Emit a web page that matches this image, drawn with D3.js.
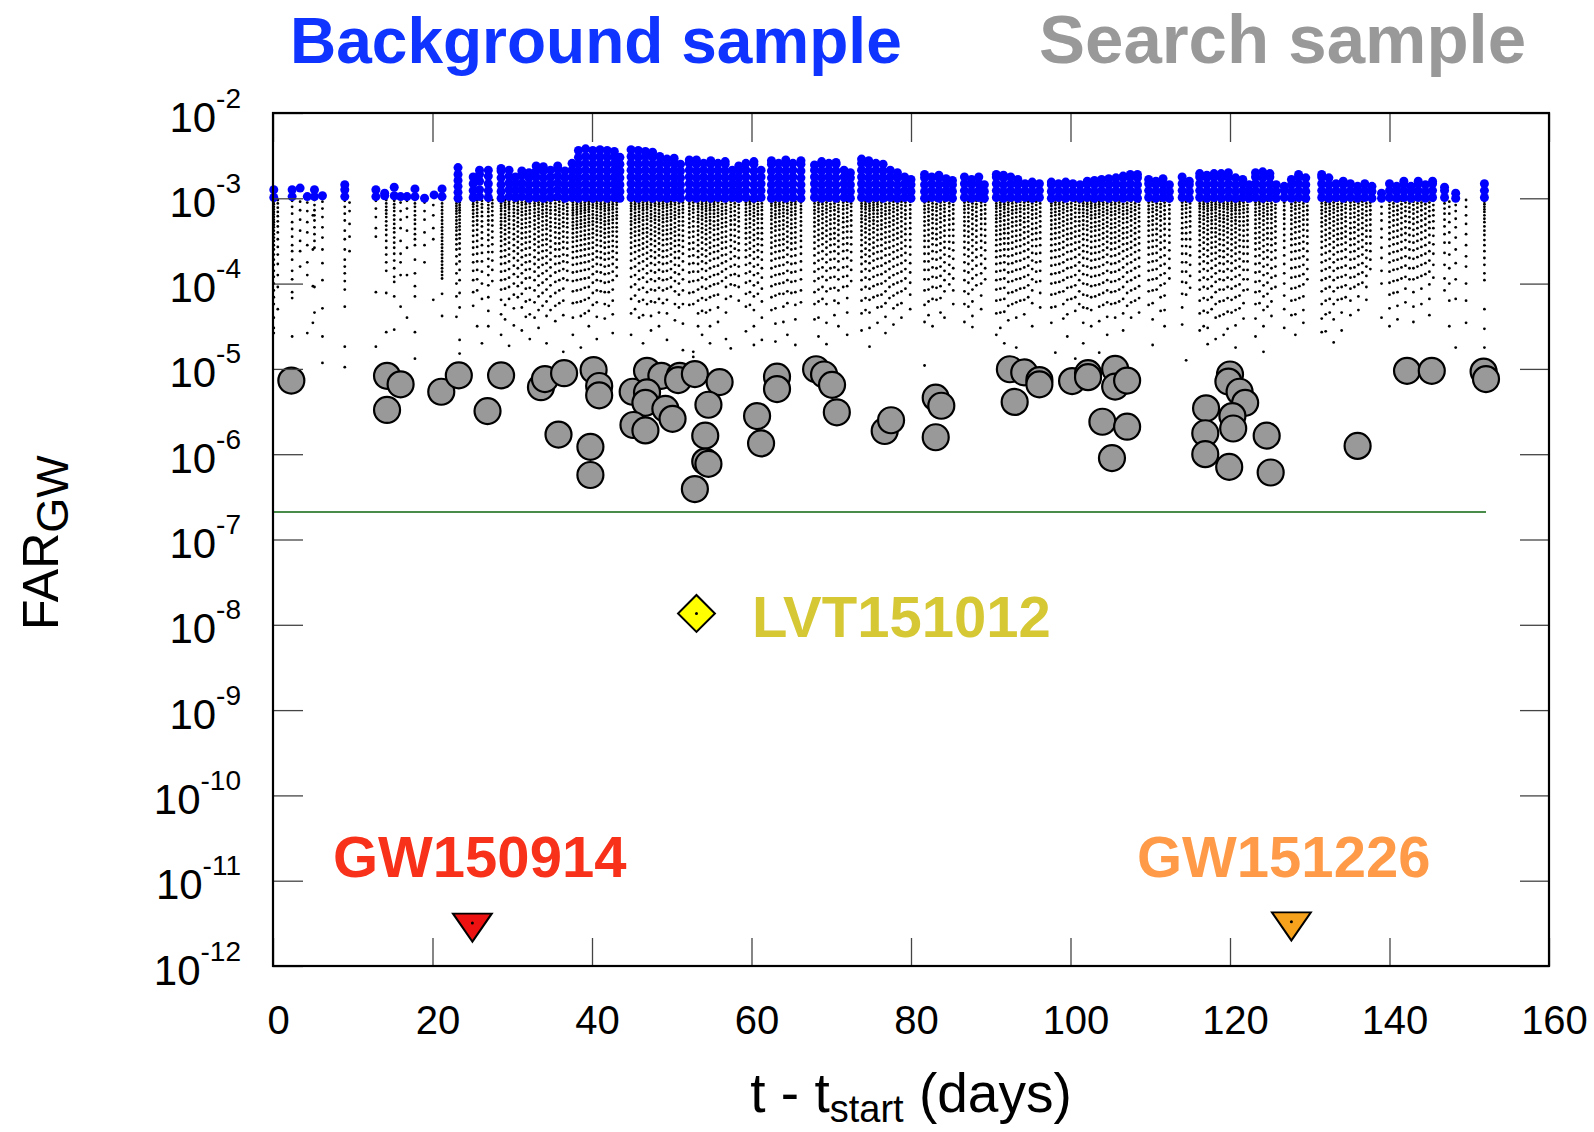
<!DOCTYPE html>
<html><head><meta charset="utf-8">
<script src="https://cdn.jsdelivr.net/npm/d3@7"></script>
<style>html,body{margin:0;padding:0;background:#fff;}svg{display:block;}</style>
</head><body><svg id="c" width="1594" height="1132"></svg>
<script>
// ---------------- DATA ----------------
const xTicks = [0, 20, 40, 60, 80, 100, 120, 140, 160];
const yTickExps = [-2, -3, -4, -5, -6, -7, -8, -9, -10, -11, -12];
const titleLeft = "Background sample";
const titleRight = "Search sample";

// Search sample (gray circles): time (days) and FAR_GW
const searchT = [2.3,14.3,16.0,14.3,21.1,23.3,26.9,28.6,33.6,34.1,36.5,35.8,40.2,40.9,40.9,39.8,39.8,
  45.1,46.9,48.7,46.9,46.7,49.2,50.1,45.2,46.7,51.0,50.8,52.9,56.0,54.6,54.2,54.2,54.6,52.9,
  63.2,63.2,60.7,61.2,68.1,69.1,70.1,70.7,76.7,77.5,83.1,83.8,83.1,
  92.4,94.2,96.1,96.1,93.0,100.2,102.2,102.2,105.6,105.6,107.1,104.0,107.1,105.2,
  120.0,119.8,121.2,121.9,117.0,120.3,120.4,116.9,116.9,119.9,124.6,125.1,136.0,142.2,145.3,151.8,152.1];
const searchFar = [7.3e-6,8.3e-6,6.6e-6,3.3e-6,5.4e-6,8.4e-6,3.2e-6,8.4e-6,6.1e-6,7.6e-6,8.9e-6,1.7e-6,9.7e-6,6.3e-6,4.9e-6,1.22e-6,5.7e-7,
  5.4e-6,9.5e-6,8.3e-6,5.3e-6,4.0e-6,3.4e-6,2.6e-6,2.2e-6,1.9e-6,8.3e-6,7.4e-6,8.7e-6,7.0e-6,3.8e-6,1.65e-6,8.2e-7,7.7e-7,3.9e-7,
  8.1e-6,5.8e-6,2.8e-6,1.34e-6,9.9e-6,8.6e-6,6.5e-6,3.1e-6,1.87e-6,2.5e-6,4.6e-6,3.7e-6,1.58e-6,
  9.9e-6,9.1e-6,7.4e-6,6.6e-6,4.1e-6,7.2e-6,8.9e-6,8.0e-6,1.0e-5,6.2e-6,7.3e-6,2.4e-6,2.1e-6,9.0e-7,
  8.6e-6,7.1e-6,5.4e-6,4.0e-6,3.45e-6,2.8e-6,2.0e-6,1.76e-6,1.0e-6,7.1e-7,1.65e-6,6.1e-7,1.25e-6,9.5e-6,9.5e-6,9.3e-6,7.6e-6];

// Events
const eventNames = ["GW150914", "LVT151012", "GW151226"];
const eventT = [25.0, 53.1, 127.7];
const eventFar = [3.2e-12, 1.36e-8, 3.3e-12];

// Threshold line
const thresholdFar = 2.1e-7;
const thresholdT = [0, 152.1];

// Background sample above 1e-3 (blue): [t, "offsets in 1/100 decade ABOVE 1e-3"]
const blueCols = [
[0.1,"1 10"],[2.4,"2 10"],[3.4,"12"],[4.3,"2"],[5.2,"2 10"],[6.2,"3"],[9.0,"2 10 16"],
[12.9,"2 10"],[14.0,"3 6"],[15.2,"3 13"],[16.0,"2"],[16.8,"2"],[17.8,"2 11"],[19.0,"0"],[20.2,"4"],[21.2,"2 11"],
[23.2,"0 7 14 21 28 36"],[25.1,"1 9 17 25"],[25.9,"2 10 20 28 33"],[27.0,"1 9 17 26 33"],
[28.6,"0 8 16 24 32 35"],[29.6,"2 10 18 26 33"],[30.4,"1 9 17 25"],[31.2,"2 10 18 27 32"],[32.1,"0 8 16 24 30"],
[33.0,"1 9 17 25 32 38"],[33.9,"0 8 16 24 32 37"],[34.8,"1 9 17 25 33"],[35.7,"2 10 18 26 34 38"],[36.6,"0 8 16 24 32"],
[37.5,"1 9 17 25 33 41"],[38.3,"0 8 16 24 32 40 48 56"],[39.2,"1 9 17 25 33 41 49 58"],[40.1,"0 8 16 24 32 40 48 56"],
[41.0,"1 9 17 25 33 41 49 57"],[41.9,"0 8 16 24 32 40 48 56"],[42.8,"1 9 17 25 33 41 49 55"],[43.5,"0 8 16 24 32 40 48"],
[44.9,"1 9 17 25 33 41 49 57"],[45.8,"0 8 16 24 32 40 48 56"],[46.7,"1 9 17 25 33 41 49 55"],[47.6,"0 8 16 24 32 40 48 54"],
[48.5,"1 9 17 25 33 41 49"],[49.4,"0 8 16 24 32 40 46"],[50.3,"1 9 17 25 33 41 47"],[51.1,"0 8 16 24 32 40"],
[52.2,"1 9 17 25 33 41 45"],[53.1,"0 8 16 24 32 40 45"],[54.0,"1 9 17 25 33 41"],[54.9,"0 8 16 24 32 40 44"],
[55.8,"1 9 17 25 33 41"],[56.7,"0 8 16 24 32 40 43"],[57.6,"1 9 17 25 33"],[58.4,"0 8 16 24 32 38"],
[59.3,"1 9 17 25 33 41"],[60.3,"0 8 16 24 32 40 43"],[61.2,"1 9 17 25 33"],
[62.5,"0 8 16 24 32 40 44"],[63.4,"1 9 17 25 33 41"],[64.3,"0 8 16 24 32 40 45"],[65.2,"1 9 17 25 33 41"],[66.2,"0 8 16 24 32 40 44"],
[67.9,"1 9 17 25 33 39"],[68.8,"0 8 16 24 32 40 43"],[69.7,"1 9 17 25 33 41"],[70.6,"0 8 16 24 32 40 42"],[71.6,"1 9 17 25 33"],[72.4,"0 8 16 24 30"],
[73.8,"1 9 17 25 33 41 46"],[74.7,"0 8 16 24 32 40 44"],[75.6,"1 9 17 25 33 41"],[76.5,"0 8 16 24 32 40"],[77.4,"1 9 17 25 33"],
[78.3,"0 8 16 24 30"],[79.2,"1 9 17 25"],[80.0,"0 8 16 22"],
[81.7,"0 8 16 24 28"],[82.6,"1 9 17 25"],[83.5,"0 8 16 24 27"],[84.4,"1 9 17 23"],[85.2,"0 8 16 21"],
[86.7,"1 9 17 25"],[87.6,"0 8 16 22"],[88.5,"1 9 17 25"],[89.2,"0 8 16"],
[90.7,"1 9 17 25 28"],[91.6,"0 8 16 24 27"],[92.5,"1 9 17 25"],[93.4,"0 8 16 22"],[94.3,"1 9 17"],[95.2,"0 8 16 19"],[96.1,"1 9 17"],
[97.6,"0 8 16 19"],[98.5,"1 9 17"],[99.4,"0 8 16 19"],[100.3,"1 9 17"],[101.2,"0 8 16"],
[102.1,"1 9 17 20"],[103.0,"0 8 16 21"],[103.9,"1 9 17 22"],[104.8,"0 8 16 23"],[105.7,"1 9 17 24"],[106.6,"0 8 16 24 26"],
[107.5,"1 9 17 25 28"],[108.4,"0 8 16 24 28"],
[109.8,"1 9 17 22"],[110.7,"0 8 16 20"],[111.6,"1 9 17 23"],[112.4,"0 8 16"],
[114.0,"1 9 17 25"],[114.9,"0 8 16 20"],
[116.2,"1 9 17 25 29"],[117.1,"0 8 16 24 27"],[118.0,"1 9 17 25 29"],[118.9,"0 8 16 24 29"],[119.8,"1 9 17 25 30"],
[120.7,"0 8 16 24"],[121.6,"1 9 17 22"],[122.4,"0 8 16"],
[123.2,"1 9 17 25 30"],[124.1,"0 8 16 24 31"],[125.0,"1 9 17 25 29"],[125.8,"0 8 16"],
[126.8,"1 9 14"],[127.7,"0 8 16 22"],[128.6,"1 9 17 25 28"],[129.5,"0 8 16 24"],
[131.5,"1 9 17 25 28"],[132.4,"0 8 16 24"],[133.3,"1 9 17"],[134.2,"0 8 16 20"],[135.1,"1 9 17"],[136.0,"0 8 14"],
[136.9,"1 9 17"],[137.8,"0 8 14"],[139.0,"0 6"],
[140.0,"1 9 17"],[140.9,"0 8 14"],[141.8,"1 9 17 20"],[142.7,"0 8 14"],[143.6,"1 9 17 20"],[144.5,"0 8 16"],[145.4,"1 9 17 20"],
[146.9,"1 9 13"],[148.3,"0 6"],[151.9,"1 9 17"]
];

// Background sample below 1e-3 (black): [t, "offsets in 1/100 decade BELOW 1e-3"]
const bgCols = [
[0.1,"1 4 7 10 13 16 19 22 25 28 31 34 38 42 46 50 55 60 66 72 78 85 92 100 108 116 124 140 152 158"],
[0.6,"2 6 11 16 21 27 33 40 48 57 66 77 90 104 130"],
[2.4,"3 10 18 28 36 45 55 62 72 85 95 110 117 162"],
[3.4,"4 14 25 38 50 62 80"],
[4.3,"5 15 28 40 55 75 90 158"],
[5.0,"20 60 103 146"],
[5.2,"2 8 14 20 26 34 42 50 58 104 134"],
[6.2,"4 12 22 34 46 60 76 96 129 162 193"],
[9.0,"3 10 18 26 38 48 60 72 80 88 97 107 127 174 198"],
[9.6,"5 15 30 45 62"],
[12.9,"3 12 22 35 45 110 174"],
[14.2,"2 6 10 14 18 22 27 32 37 43 50 58 66 75 85 111 157"],
[15.2,"3 7 11 15 20 25 30 35 40 46 52 58 65 73 82 92 98 115 154"],
[16.0,"5 15 25 35 50 65 75 90 127"],
[16.8,"3 12 22 38 58 90 140"],
[17.8,"2 6 10 15 20 25 30 36 42 48 55 72 88 103 115 157 188"],
[19.0,"5 15 25 40 55 75"],
[20.1,"8 20 35 48 119"],
[21.2,"2 6 10 14 18 22 26 30 34 38 42 46 50 54 58 62 66 70 74 78 82 86 90 94 112 138"],
[23.0,"1 3 6 9 12 15 18 22 26 30 34 38 43 48 54 60 68 77 88 100 115 139"],
[23.4,"2 5 8 11 14 17 21 25 29 33 37 42 47 53 59 66 74 84 96 111 128 166 182"],
[25.1,"1 4 7 10 14 18 22 27 32 38 44 51 58 66 75 85 96 110 126"],
[25.6,"2 5 9 13 17 21 26 31 37 43 50 57 65 74 84 95 108 150"],
[26.2,"3 7 11 16 21 27 33 40 47 55 64 74 86 100 118 170"],
[27.0,"1 4 8 12 16 21 26 31 37 43 49 56 63 71 80 90 102 116 132 150"],
[27.5,"2 6 10 15 20 26 32 39 46 54 63 73 84 97"],
[28.6,"1 3 6 9 12 15 19 23 27 31 35 40 45 50 56 62 69 77 86 96 107 119 136 160"],
[29.1,"2 5 8 11 15 19 23 27 32 37 42 48 54 61 68 76 85 95 106 125 142"],
[29.6,"1 4 7 10 13 17 21 25 30 35 40 46 52 59 66 74 83 93 104 118 173"],
[30.2,"2 5 9 13 17 21 26 31 36 42 48 55 62 70 79 89 100 113 129 149"],
[30.7,"1 3 6 10 14 18 23 28 33 39 45 51 58 65 73 82 92 103 116"],
[31.2,"2 5 8 12 16 20 25 30 35 41 47 54 61 69 78 88 99 112 128 155"],
[31.7,"1 4 7 11 15 19 24 29 34 40 46 52 59 67 75 84 94 106 121 139"],
[32.2,"2 6 10 14 18 23 28 33 39 45 51 58 66 74 83 93 105 119 136 165"],
[32.8,"1 3 6 9 13 17 21 26 31 36 42 48 54 61 69 77 86 96 108 122 140"],
[33.3,"2 5 8 12 16 20 24 29 34 39 45 51 57 64 72 81 91 102 115 131 152"],
[33.8,"1 4 7 10 14 18 22 27 32 37 43 49 55 62 70 78 88 99 111 126"],
[34.3,"2 5 9 13 17 21 26 31 36 42 48 54 61 68 76 85 95 107 121 138 170"],
[34.8,"1 3 6 10 14 18 23 28 33 38 44 50 57 64 72 81 91 102 115 131"],
[35.4,"2 6 10 14 19 24 29 34 40 46 53 60 68 77 87 98 111 126 144"],
[35.9,"1 4 8 12 16 20 25 30 35 41 47 53 60 68 76 85 96 108 123"],
[36.4,"2 5 9 13 18 23 28 33 39 45 51 58 66 74 83 94 106 120 137 180"],
[36.9,"1 3 7 11 15 19 24 29 34 40 46 52 59 67 75 85 96"],
[37.6,"1 3 5 8 11 14 17 20 24 28 32 36 41 46 51 57 63 70 78 87 97 109 123 140 160"],
[38.1,"2 4 7 10 13 16 19 23 27 31 35 40 45 50 56 62 69 77 86 96 108 122"],
[38.6,"1 3 6 9 12 15 18 22 26 30 34 39 44 49 55 61 68 76 85 95 107 121 138 175"],
[39.1,"2 5 8 11 14 17 21 25 29 33 38 43 48 54 60 67 75 84 94 105 119 135"],
[39.6,"1 4 7 10 13 16 20 24 28 32 37 42 47 53 59 66 74 83 93 104 117 132 150"],
[40.1,"2 5 8 11 15 19 23 27 31 36 41 46 52 58 65 72 80 89 99 111 125"],
[40.6,"1 3 6 9 12 16 20 24 28 33 38 43 49 55 62 69 77 86 96 108 122 139 165"],
[41.1,"2 4 7 10 13 17 21 25 29 34 39 44 50 56 63 70 78 87 97 109"],
[41.6,"1 3 6 9 12 15 19 23 27 31 36 41 46 52 58 65 72 80 89 99 110 124 141"],
[42.1,"2 5 8 11 14 18 22 26 30 35 40 45 51 57 64 71 79 88 98 110 126"],
[42.6,"1 4 7 10 13 17 21 25 29 34 39 44 50 56 62 69 77 86 96 107 120 136 158"],
[43.1,"2 5 8 12 16 20 24 29 34 39 45 51 57 64 72 81 91"],
[44.9,"1 3 6 9 12 15 19 23 27 31 36 41 46 52 58 65 73 82 92 104 118 135 160"],
[45.4,"2 4 7 10 13 17 21 25 29 34 39 44 50 56 63 71 80 90 101 114 130"],
[45.9,"1 3 6 9 12 16 20 24 28 33 38 43 49 55 61 68 76 85 95 107 121 140"],
[46.4,"2 5 8 11 14 18 22 26 31 36 41 47 53 59 66 74 83 93 105 119 137 170"],
[46.9,"1 4 7 10 13 17 21 25 30 35 40 45 51 57 64 71 79 88 98 110 124"],
[47.4,"2 5 8 11 15 19 23 27 32 37 42 48 54 61 68 76 85 95 107 121 138 155"],
[47.9,"1 3 6 9 13 17 21 25 29 34 39 44 50 56 63 70 78 87 97 108 122"],
[48.4,"2 4 7 10 14 18 22 26 31 36 41 47 53 60 67 75 84 94 105 118 134 150"],
[48.9,"1 3 6 9 12 16 20 24 28 33 38 43 49 55 62 69 77 86 96 108 123"],
[49.4,"2 5 8 11 15 19 23 27 32 37 42 48 54 61 68 76 85 95 106 119 135 166"],
[49.9,"1 4 7 10 14 18 22 26 31 36 41 47 53 59 66 74 83 93 104"],
[50.4,"2 5 8 12 16 20 24 29 34 39 44 50 56 63 70 78 87 97 109 124 143"],
[50.9,"1 3 6 10 14 18 22 27 32 37 43 49 55 62 70 79 89 100 113 128"],
[51.4,"2 5 9 13 17 22 27 32 38 44 50 57 65 74 84 95 108 124 147 178"],
[52.2,"1 4 7 11 15 19 24 29 34 40 46 53 60 68 77 87 98 111 125"],
[52.7,"2 5 9 13 17 22 27 33 39 45 52 59 67 76 86 97 110 124 180 186"],
[53.3,"1 3 6 9 12 16 20 24 28 33 38 43 49 55 62 69 77 86 96 107 120 135 150"],
[53.8,"2 4 7 10 13 17 21 25 30 35 40 46 52 59 66 74 83 93 104 117 132 160"],
[54.3,"1 3 6 9 12 15 19 23 27 32 37 42 48 54 61 68 76 85 95 106 119 134"],
[54.8,"2 5 8 11 14 18 22 26 30 35 40 46 52 58 65 73 82 92 103 116 131 150 170"],
[55.3,"1 4 7 10 14 18 22 27 32 37 43 49 56 63 71 80 90 101 114"],
[55.8,"2 5 9 13 17 21 26 31 36 42 48 55 62 70 79 89 100 113 128 145"],
[56.3,"1 3 7 11 15 19 24 29 34 40 46 52 59 67 76 86 97"],
[56.8,"2 6 10 14 18 23 28 33 39 45 51 58 66 74 83 93 104 118 134 165"],
[57.4,"1 4 8 12 16 21 26 31 37 43 49 56 63 71 80 90 101 115 176"],
[57.9,"2 6 10 15 20 25 31 37 44 51 59 68 78 89 102"],
[58.4,"1 4 8 12 17 22 27 33 39 46 53 61 70 80 91 104 120"],
[59.3,"2 5 8 12 16 20 25 30 35 41 47 54 61 69 78 88 99 112 127 156"],
[59.8,"1 4 7 11 15 19 24 29 34 40 46 52 59 67 76 86 97 110 125"],
[60.3,"2 5 9 13 17 21 26 31 37 43 49 56 63 71 80 90 102 115 131 150 172"],
[60.8,"1 3 7 11 15 19 24 29 35 41 47 54 61 69 78 88 99 112"],
[61.3,"2 6 10 14 19 24 29 35 41 48 55 63 72 82 93 106 121 140 166"],
[62.5,"1 3 6 9 13 17 21 25 30 35 40 46 52 58 65 73 82 92 103 116 131"],
[63.0,"2 5 8 11 15 19 23 28 33 38 44 50 56 63 71 80 90 101 114 129 147 168"],
[63.5,"1 4 7 10 14 18 22 27 32 37 43 49 55 62 70 79 89 100 112"],
[64.0,"2 5 9 13 17 21 26 31 36 42 48 54 61 69 78 88 99 112 127 145"],
[64.5,"1 3 6 10 14 18 23 28 33 39 45 51 58 66 75 85 96 109 123 160"],
[65.0,"2 5 8 12 16 20 25 30 35 41 47 53 60 68 77 87 98 111"],
[65.5,"1 4 7 11 15 19 24 29 34 40 46 52 59 67 76 86 97 110 125 142 172"],
[66.2,"2 5 9 13 17 22 27 32 38 44 50 57 65 74 84 95 108 122"],
[67.9,"1 3 6 10 14 18 23 28 33 39 45 52 59 67 76 86 97 110 124 142"],
[68.4,"2 5 8 12 16 21 26 31 37 43 49 56 64 73 83 94 107 121 140 162"],
[68.9,"1 4 7 11 15 19 24 29 35 41 47 54 62 71 81 92 104 118"],
[69.4,"2 5 9 13 17 22 27 32 38 44 51 58 66 75 85 96 109 124 146 171"],
[69.9,"1 3 7 11 15 20 25 30 36 42 48 55 63 72 82 93 106"],
[70.4,"2 6 10 14 19 24 29 35 41 47 54 62 71 81 92 105 120 137"],
[70.9,"1 4 8 12 16 21 26 31 37 43 50 57 65 74 84 95 108 123 150"],
[71.5,"2 5 9 13 18 23 28 34 40 47 54 62 71 81 92 104"],
[72.0,"1 4 8 12 17 22 27 33 39 46 53 61 70 80 91 103 117 134 160"],
[72.5,"2 6 10 15 20 26 32 39 46 54 63 73 84 97"],
[73.8,"1 3 6 9 12 16 20 24 28 33 38 43 49 55 62 69 77 86 96 107 120 135 155"],
[74.3,"2 4 7 10 13 17 21 25 30 35 40 46 52 59 66 74 83 93 104 117 131"],
[74.8,"1 3 6 9 12 15 19 23 27 32 37 42 48 54 61 68 76 85 95 106 119 134 152 174"],
[75.3,"2 5 8 11 14 18 22 26 30 35 40 46 52 58 65 73 82 92 103 116"],
[75.8,"1 4 7 10 14 18 22 27 32 37 43 49 56 63 71 80 90 101 114 128 146"],
[76.3,"2 5 9 13 17 21 26 31 36 42 48 55 62 70 79 89 100 113 127"],
[76.8,"1 3 7 11 15 19 24 29 34 40 46 52 59 67 76 86 97 109 123 139 158"],
[77.3,"2 6 10 14 18 23 28 33 39 45 51 58 66 74 83 93 104 117"],
[77.8,"1 4 8 12 16 21 26 31 37 43 49 56 63 71 80 90 101 114 129 148"],
[78.3,"2 6 10 14 19 24 29 35 41 47 54 61 69 78 88 99 111 125"],
[78.8,"1 4 8 12 17 22 27 33 39 45 52 59 67 76 86 97 109 123 140"],
[79.3,"2 5 9 14 19 24 30 36 42 49 56 64 73 83 94 106"],
[79.9,"1 4 8 13 18 23 29 35 42 49 57 66 76 87 99 113 130"],
[81.7,"2 5 9 13 17 22 27 32 38 44 50 57 65 74 84 95 108 125 145 196"],
[82.2,"1 4 8 12 16 21 26 31 37 43 50 57 65 74 84 95 107 121 137"],
[82.7,"2 6 10 14 19 24 29 35 41 47 54 62 71 81 92 104 118 150"],
[83.2,"1 3 7 11 15 20 25 30 36 42 48 55 63 72 82 93 105 119"],
[83.7,"2 5 9 13 18 23 28 34 40 46 53 61 70 80 91 103 117 134"],
[84.2,"1 4 8 12 16 21 26 32 38 44 51 58 66 75 85 96 109 140"],
[84.8,"2 6 10 15 20 25 31 37 44 51 59 68 78 89 101"],
[85.3,"1 4 8 13 18 24 30 37 44 52 61 71 82 94 108 124"],
[86.7,"2 5 9 13 17 22 27 32 38 44 51 58 66 75 85 96 109 124 145"],
[87.2,"1 4 8 12 17 22 27 33 39 45 52 60 68 77 87 99 112 127"],
[87.7,"2 6 10 14 19 24 30 36 42 49 56 64 73 83 94 107 121 138 151"],
[88.2,"1 3 7 11 16 21 26 32 38 45 52 60 69 79 90 102"],
[88.8,"2 5 9 14 19 24 30 36 43 50 58 67 77 88 100 114 130"],
[89.3,"1 4 8 13 18 24 30 37 44 52 61 71 82 95"],
[90.7,"1 3 6 9 12 16 20 24 28 33 38 43 49 55 62 69 77 86 96 107 120 135 160"],
[91.2,"2 5 8 11 15 19 23 27 32 37 42 48 54 61 68 76 85 95 106 119 134 152"],
[91.7,"1 4 7 10 13 17 21 26 31 36 41 47 53 60 67 75 84 94 105 118 133 170"],
[92.2,"2 5 8 12 16 20 25 30 35 41 47 53 60 68 77 87 98 111 126 143"],
[92.7,"1 3 6 10 14 18 23 28 33 39 45 52 59 67 76 86 97 110 124"],
[93.2,"2 5 9 13 17 22 27 32 38 44 50 57 65 74 84 95 108 122 140 175"],
[93.7,"1 4 8 12 16 21 26 31 37 43 49 56 64 73 83 94 106 120"],
[94.2,"2 5 9 13 18 23 28 34 40 47 54 62 71 81 92 105 119 136"],
[94.7,"1 4 8 12 17 22 27 33 39 45 52 60 69 79 90 102 116"],
[95.2,"2 6 10 14 19 24 30 36 42 49 56 64 73 83 95 108 123 150"],
[95.7,"1 4 8 13 18 23 29 35 41 48 56 65 75 86 98"],
[96.2,"2 6 11 16 21 27 33 40 47 55 64 74 85 97 111 128"],
[97.6,"1 3 6 9 13 17 21 26 31 36 42 48 55 62 70 79 89 100 113 128 146"],
[98.1,"2 5 8 12 16 20 25 30 35 41 47 54 61 69 78 88 99 112 127 181"],
[98.6,"1 4 7 11 15 19 24 29 34 40 46 53 60 68 77 87 98 110"],
[99.1,"2 5 9 13 17 22 27 32 38 44 51 58 66 75 85 96 109 124 141"],
[99.6,"1 3 7 11 15 20 25 30 36 42 48 55 63 72 82 93 105 119 136 162"],
[100.1,"2 6 10 14 19 24 29 35 41 47 54 62 71 81 92 104 118"],
[100.6,"1 4 8 12 17 22 27 33 39 45 52 60 69 79 90 102 116 132 188"],
[101.1,"2 5 9 13 17 22 27 32 38 44 51 58 66 75 85 96 109 124"],
[101.6,"1 3 6 9 13 17 21 26 31 36 42 48 55 62 70 79 89 100 113 128 146 170"],
[102.1,"2 4 7 10 14 18 22 27 32 37 43 49 56 63 71 80 90 101 114 129"],
[102.6,"1 3 6 9 12 16 20 24 29 34 39 45 51 58 65 73 82 92 103 116 131 150"],
[103.1,"2 5 8 11 15 19 23 28 33 38 44 50 57 64 72 81 91 102 115"],
[103.6,"1 4 7 10 14 18 22 27 32 37 43 49 56 63 71 80 90 101 113 127 144 181"],
[104.1,"2 5 8 12 16 20 25 30 35 41 47 54 61 69 78 88 99 111 125"],
[104.6,"1 3 6 10 14 18 23 28 33 39 45 51 58 66 75 85 96 108 122 139 160"],
[105.1,"2 5 8 12 16 20 25 30 35 41 47 53 60 68 77 87 98 110 124"],
[105.6,"1 4 7 11 15 19 24 29 34 40 46 52 59 67 76 86 97 109 123 140 197"],
[106.1,"2 5 9 13 17 22 27 32 38 44 50 57 65 74 84 95 107 121"],
[106.6,"1 3 7 11 15 19 24 29 35 41 47 54 62 71 81 92 104 118 135 155"],
[107.1,"2 6 10 14 18 23 28 34 40 46 53 60 68 77 87 98 111 126"],
[107.6,"1 4 8 12 16 21 26 32 38 44 51 58 66 75 85 96 108 122 140"],
[108.1,"2 6 10 14 19 24 29 35 41 48 55 63 72 82 93 106 120"],
[108.6,"1 4 8 12 17 22 27 33 39 46 53 61 70 80 91 103 117 134"],
[109.8,"2 5 9 13 17 22 27 32 38 44 51 58 66 75 85 96 109 125"],
[110.3,"1 4 8 12 16 21 26 31 37 43 50 57 65 74 84 95 108 123 142 172"],
[110.8,"2 6 10 14 19 24 30 36 42 49 56 64 73 83 94 107"],
[111.3,"1 3 7 11 16 21 26 32 38 45 52 60 69 79 90 102 116 132"],
[111.8,"2 5 9 14 19 24 30 36 43 50 58 67 77 88 100 114 131 150"],
[112.4,"1 4 8 13 18 24 30 37 44 52 61 71 82 94"],
[114.0,"2 5 9 13 18 23 29 35 41 48 56 65 75 86 98 112 128 148"],
[114.5,"1 4 8 12 17 22 28 34 41 48 56 65 75 86 99 113 190"],
[115.0,"2 6 11 16 21 27 33 40 48 57 67 78 91 105"],
[116.2,"1 3 6 9 12 16 20 24 28 33 38 43 49 55 62 69 77 86 96 107 120 135 155"],
[116.7,"2 4 7 10 13 17 21 25 30 35 40 46 52 59 66 74 83 93 104 117 132 150"],
[117.2,"1 3 6 9 12 15 19 23 27 32 37 42 48 54 61 68 76 85 95 106 119 134 152 171"],
[117.7,"2 5 8 11 14 18 22 26 30 35 40 46 52 58 65 73 82 92 103 116 130"],
[118.2,"1 4 7 10 13 17 21 25 30 35 40 45 51 57 64 71 79 88 98 110 124 140 165"],
[118.7,"2 5 8 11 15 19 23 27 32 37 42 48 54 61 68 76 85 95 107 121 138"],
[119.2,"1 3 6 9 12 16 20 24 28 33 38 43 49 55 62 69 77 86 96 107 120 136 160 196"],
[119.7,"2 4 7 10 13 17 21 25 30 35 40 46 52 59 66 74 83 93 104 117 133 153"],
[120.2,"1 3 6 9 12 15 19 23 27 32 37 42 48 54 61 68 76 85 95 106 119 134"],
[120.7,"2 5 8 11 14 18 22 26 30 35 40 46 52 58 65 73 82 92 103 116 131 149 175"],
[121.2,"1 4 7 10 14 18 22 27 32 37 43 49 56 63 71 80 90 101 114 129"],
[121.7,"2 5 9 13 17 22 27 32 38 44 50 57 65 74 84 95 108 123 141"],
[122.2,"1 4 8 12 16 21 26 31 37 43 50 57 65 74 84 95 107"],
[123.2,"2 5 8 12 16 20 25 30 35 41 47 53 60 68 77 87 98 110 124 141 162"],
[123.7,"1 4 7 11 15 19 24 29 34 40 46 52 59 67 76 86 97 109 123"],
[124.2,"2 5 9 13 17 21 26 31 37 43 49 56 63 71 80 90 102 115 131 150 180"],
[124.7,"1 3 7 11 15 19 24 29 35 41 47 54 61 69 78 88 99 112 127"],
[125.2,"2 6 10 14 19 24 29 35 41 48 55 63 72 82 93 106 121 138"],
[125.7,"1 4 8 12 17 22 27 33 39 46 53 61 70 80 91 104"],
[126.8,"2 5 9 14 19 24 30 36 43 50 58 67 77 88 100 114 130 152"],
[127.7,"1 3 7 11 15 20 25 30 36 42 48 55 63 72 82 93 106 120 137"],
[128.2,"2 5 9 13 18 23 28 34 40 47 54 62 71 81 92 105 119 136 160"],
[128.7,"1 4 8 12 17 22 27 33 39 46 53 61 70 80 91 103 117"],
[129.2,"2 6 10 15 20 25 31 37 44 51 59 68 78 89 101 115 131 146"],
[129.7,"1 4 9 14 19 25 31 38 45 53 62 72 83 95"],
[131.5,"1 3 6 10 14 18 23 28 33 39 45 51 58 66 75 85 96 109 124 141 157"],
[132.0,"2 5 8 12 16 21 26 31 37 43 49 56 64 73 83 94 106 120 136 156"],
[132.5,"1 4 7 11 15 19 24 29 35 41 47 54 62 71 81 92 104 118 134"],
[133.0,"2 5 9 13 17 22 27 32 38 44 51 58 66 75 85 96 109 124 142 169"],
[133.5,"1 3 7 11 15 20 25 30 36 42 48 55 63 72 82 93 105 119"],
[134.0,"2 6 10 14 19 24 29 35 41 47 54 62 71 81 92 104 118 134 155"],
[134.5,"1 4 8 12 17 22 27 33 39 45 52 60 69 79 90 102 116"],
[135.1,"2 5 9 13 18 23 29 35 41 48 55 63 72 82 93 106 120 137"],
[135.6,"1 4 8 12 17 22 28 34 40 47 54 62 71 81 92 104"],
[136.1,"2 6 10 15 20 25 31 37 44 51 59 68 78 89 101 115 131"],
[136.6,"1 4 8 13 18 23 29 35 42 49 57 66 76 87 99"],
[137.1,"2 6 10 15 20 26 32 38 45 53 61 70 80 91 104 119"],
[137.6,"1 5 9 14 19 25 31 38 45 53 62 72 83"],
[139.0,"3 10 18 26 36 46 58 70 85 100 140"],
[140.0,"1 4 8 12 17 22 28 34 41 48 56 65 75 86 99 113 129 150"],
[140.5,"2 6 10 15 20 26 32 39 46 54 63 73 84 97 111"],
[141.0,"1 4 9 14 19 25 31 38 45 53 62 72 83 96 110 126 142"],
[141.5,"3 7 12 17 23 29 36 43 51 60 70 81 94"],
[142.0,"1 5 10 15 21 27 34 41 49 58 68 79 92 106 122"],
[142.5,"2 6 11 16 22 28 35 43 51 60 70 82 95"],
[143.0,"1 4 8 13 18 24 30 37 44 52 61 71 82 95 110 127 145"],
[143.5,"2 6 11 16 22 28 35 42 50 59 69 80 93"],
[144.0,"1 5 9 14 20 26 33 40 48 57 67 78 91 106 124"],
[144.5,"2 7 12 18 24 31 38 46 55 65 76 89"],
[145.0,"1 5 10 15 21 28 35 43 52 62 73 86 101 118 137"],
[145.5,"3 8 14 20 27 35 44 54 65 78 93"],
[146.9,"2 6 12 18 25 33 42 52 64 78 94 108"],
[147.5,"4 10 18 28 40 52 66 82 100 120 150"],
[148.3,"3 8 15 24 34 46 60 76 95 118 175"],
[149.6,"2 10 20 30 42 55 68 80 100 120 146"],
[151.9,"1 4 7 10 13 16 20 24 28 33 38 43 49 55 62 70 78 88 96 130 153 175"]
];

// ---------------- CHART ----------------
const FONT = '"Liberation Sans", Arial, Helvetica, sans-serif';
const m = {l: 273, r: 1549, t: 113, b: 966};
const x = d3.scaleLinear().domain([0, 160]).range([m.l, m.r]);
const y = d3.scaleLog().domain([1e-12, 1e-2]).range([m.b, m.t]);
const svg = d3.select('#c').style('font-family', FONT);

// flatten background columns into points
const blueLevel = 1e-3;
const bluePts = [];
blueCols.forEach(([t, s]) => s.split(' ').forEach(v => bluePts.push({t, far: blueLevel * Math.pow(10, +v / 100)})));
const blackPts = [];
bgCols.forEach(([t, s]) => s.split(' ').forEach(v => blackPts.push({t, far: blueLevel * Math.pow(10, -v / 100)})));

// background (black) points
svg.append('g').selectAll('circle').data(blackPts).join('circle')
  .attr('cx', d => x(d.t)).attr('cy', d => y(d.far)).attr('r', 1.4).attr('fill', '#000');
// background (blue) points
svg.append('g').selectAll('circle').data(bluePts).join('circle')
  .attr('cx', d => x(d.t)).attr('cy', d => y(d.far)).attr('r', 4.5).attr('fill', '#0000ff');

// threshold line
svg.append('line').attr('x1', x(thresholdT[0])).attr('x2', x(thresholdT[1]))
  .attr('y1', y(thresholdFar)).attr('y2', y(thresholdFar))
  .attr('stroke', '#0c660c').attr('stroke-width', 1.7);

// search sample
svg.append('g').selectAll('circle').data(searchT.map((t, i) => ({t, far: searchFar[i]}))).join('circle')
  .attr('cx', d => x(d.t)).attr('cy', d => y(d.far)).attr('r', 13)
  .attr('fill', '#999999').attr('stroke', '#000').attr('stroke-width', 2.2);

// events
const evFill = ['#ee1111', '#ffff00', '#f7a21c'];
const evText = ['#f8321a', '#d6c835', '#ff9b48'];
const evSym = [d3.symbol().type(d3.symbolTriangle).size(560)(), d3.symbol().type(d3.symbolSquare).size(680)(), d3.symbol().type(d3.symbolTriangle).size(560)()];
const evRot = [180, 45, 180];
eventT.forEach((t, i) => {
  const cx = x(t), cy = y(eventFar[i]);
  svg.append('path').attr('d', evSym[i]).attr('transform', `translate(${cx},${cy}) rotate(${evRot[i]}) scale(${i === 1 ? '1,1' : '1.08,0.9'})`)
    .attr('fill', evFill[i]).attr('stroke', '#000').attr('stroke-width', 2);
  svg.append('circle').attr('cx', cx).attr('cy', cy).attr('r', 1.5).attr('fill', '#000');
});
const evLabelPos = [[333, 877], [752, 637], [1137, 877]];
eventNames.forEach((n, i) => {
  svg.append('text').attr('x', evLabelPos[i][0]).attr('y', evLabelPos[i][1])
    .attr('font-size', 58).attr('font-weight', 'bold').attr('fill', evText[i]).text(n);
});

// axes
const yTickVals = yTickExps.map(e => Math.pow(10, e));
const styleAxis = g => { g.select('.domain').remove(); g.selectAll('line').attr('stroke', '#444').attr('stroke-width', 1.3); };
svg.append('g').attr('transform', `translate(0,${m.t})`)
  .call(d3.axisTop(x).tickValues(xTicks).tickSize(-29).tickFormat('')).call(styleAxis);
svg.append('g').attr('transform', `translate(${m.r},0)`)
  .call(d3.axisRight(y).tickValues(yTickVals).tickSize(-29).tickFormat('')).call(styleAxis);
const gB = svg.append('g').attr('transform', `translate(0,${m.b})`)
  .call(d3.axisBottom(x).tickValues(xTicks).tickSize(-28).tickPadding(40).tickFormat(d3.format('d')))
  .call(styleAxis);
gB.attr('font-size', 40).attr('font-family', FONT);
gB.selectAll('text').attr('fill', '#000').attr('dx', 5);
const gL = svg.append('g').attr('transform', `translate(${m.l},0)`)
  .call(d3.axisLeft(y).tickValues(yTickVals).tickSize(-30).tickPadding(32).tickFormat(''))
  .call(styleAxis);
gL.attr('font-family', FONT);
gL.selectAll('text').attr('dy', null).attr('fill', '#000').each(function(d) {
  const t = d3.select(this);
  t.append('tspan').attr('font-size', 42).attr('dy', 18).text('10');
  t.append('tspan').attr('font-size', 28).attr('dy', -24).text(String(Math.round(Math.log10(d))));
});

// frame
svg.append('rect').attr('x', m.l).attr('y', m.t).attr('width', m.r - m.l).attr('height', m.b - m.t)
  .attr('fill', 'none').attr('stroke', '#000').attr('stroke-width', 2.2);

// axis titles
const yl = svg.append('text').attr('transform', 'translate(58,630) rotate(-90)').attr('fill', '#000');
yl.append('tspan').attr('font-size', 50).text('FAR');
yl.append('tspan').attr('font-size', 45).attr('dy', 10).text('GW');
const xl = svg.append('text').attr('x', 911).attr('y', 1112).attr('text-anchor', 'middle').attr('fill', '#000');
xl.append('tspan').attr('font-size', 55).text('t - t');
xl.append('tspan').attr('font-size', 38).attr('dy', 10).text('start');
xl.append('tspan').attr('font-size', 55).attr('dy', -10).text(' (days)');

// titles
svg.append('text').attr('x', 290).attr('y', 63).attr('font-size', 64).attr('font-weight', 'bold')
  .attr('fill', '#1034ff').text(titleLeft);
svg.append('text').attr('x', 1039).attr('y', 63).attr('font-size', 69).attr('font-weight', 'bold')
  .attr('fill', '#999999').text(titleRight);
</script></body></html>
